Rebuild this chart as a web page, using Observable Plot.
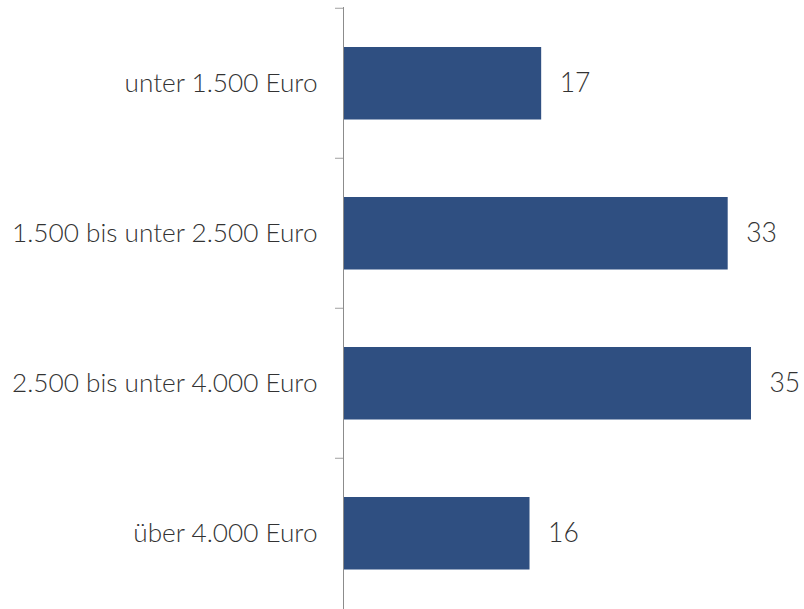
<!DOCTYPE html>
<html>
<head>
<meta charset="utf-8">
<script src="https://cdn.jsdelivr.net/npm/d3@7"></script>
<script src="https://cdn.jsdelivr.net/npm/@observablehq/plot@0.6"></script>
<style>
  html, body { margin: 0; padding: 0; background: #fff; }
  #chart svg { display: block; }
</style>
</head>
<body>
<div id="chart"></div>
<script>
const categories = ["unter 1.500 Euro", "1.500 bis unter 2.500 Euro", "2.500 bis unter 4.000 Euro", "über 4.000 Euro"];
const values = [17, 33, 35, 16];

const data = categories.map((c, i) => ({category: c, value: values[i]}));

const W = 804, H = 609;
const mTop = 7, mBottom = 0, mLeft = 343, mRight = 53;
const bandH = (H - mTop - mBottom) / categories.length;
const font = "'Lato Light', Lato, sans-serif";

const chart = Plot.plot({
  width: W,
  height: H,
  marginTop: mTop,
  marginBottom: mBottom,
  marginLeft: mLeft,
  marginRight: mRight,
  style: {fontFamily: font, background: "#fff"},
  x: {domain: [0, 35], axis: null},
  y: {domain: categories, padding: 0, label: null},
  marks: [
    Plot.barX(data, {x: "value", y: "category", fill: "#2F4F81", insetTop: 39, insetBottom: 38.5, insetLeft: 1}),
    Plot.axisY({tickSize: 0, tickPadding: 26, fontSize: 26.2, fontWeight: 300, fill: "#333333", label: null}),
    Plot.axisY({tickSize: 8, tickFormat: () => "", dy: -bandH / 2, stroke: "#a0a0a0", label: null}),
    Plot.ruleX([0], {stroke: "#8c8c8c", strokeWidth: 1}),
    Plot.text(data, {x: "value", y: "category", text: d => String(d.value), textAnchor: "start", dx: 18, fontSize: 26.5, fontWeight: 300, fill: "#333333"})
  ]
});
document.getElementById("chart").appendChild(chart);
</script>
</body>
</html>
